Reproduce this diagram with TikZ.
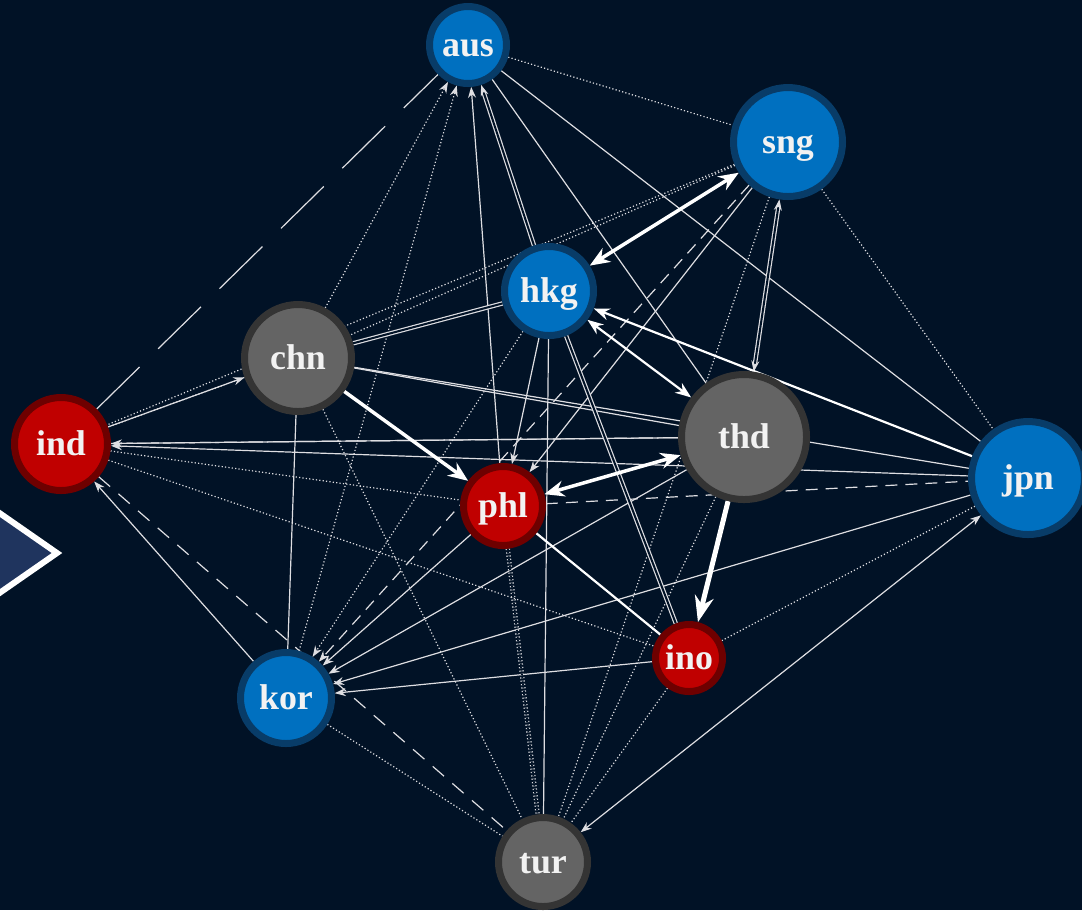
\documentclass[tikz,border=0pt]{standalone}
\usepackage{fontspec}
\setmainfont{Liberation Serif}
\usetikzlibrary{arrows.meta}

\definecolor{bgnavy}{RGB}{1,18,38}
\definecolor{blueF}{RGB}{0,112,192}
\definecolor{blueE}{RGB}{8,60,104}
\definecolor{redF}{RGB}{192,0,0}
\definecolor{redE}{RGB}{110,0,0}
\definecolor{grayF}{RGB}{100,100,100}
\definecolor{grayE}{RGB}{52,52,52}
\definecolor{linkgray}{RGB}{222,222,226}
\definecolor{labelwhite}{RGB}{242,242,242}
\definecolor{chevronF}{RGB}{31,52,94}

\pgfdeclarelayer{back}
\pgfdeclarelayer{links}
\pgfsetlayers{back,links,main}

\tikzset{
  country/.style={circle, line width=0.7mm, text=labelwhite, inner sep=0pt,
    text height=6.8pt, text depth=0pt, font=\fontsize{10.2}{12}\selectfont\bfseries},
  link/.style={draw=linkgray, line width=0.12mm, >={Stealth[length=1.1mm,width=0.8mm]}},
  dotlink/.style={link, dash pattern=on 0.12mm off 0.22mm},
  dashlink/.style={link, dash pattern=on 1.2mm off 0.8mm},
  longdash/.style={link, dash pattern=on 6mm off 2.6mm},
  twin/.style={link, double=bgnavy, double distance=0.2mm},
  medium/.style={draw=white, line width=0.22mm, >={Stealth[length=1.6mm,width=1.2mm]}},
  heavy/.style={draw=white, line width=0.35mm, >={Stealth[length=2mm,width=1.6mm]}},
  chevron/.style={fill=chevronF, draw=white, line width=0.6mm}
}

\begin{document}
\begin{tikzpicture}[x=0.1mm, y=-0.1mm]

    \begin{pgfonlayer}{back}
        \fill[bgnavy] (0,0) rectangle (1082,910);
    \end{pgfonlayer}
    \useasboundingbox (0,0) rectangle (1082,910);

    % pointer at the left border
    \begin{scope}
        \clip (0,0) rectangle (1082,910);
        \draw[chevron] (-25,496) -- (57,553) -- (-25,610) -- cycle;
    \end{scope}

    \foreach \x/\y/\name/\size/\kind in {468/45/aus/84/blue, 788/142/sng/116/blue,
        549/291/hkg/96/blue, 298/358/chn/114/gray, 61/444/ind/100/red,
        744/437/thd/132/gray, 1028/478/jpn/120/blue, 503/506/phl/86/red,
        689/658/ino/74/red, 286/698/kor/98/blue, 543/862/tur/96/gray}
        \node[country, fill=\kind F, draw=\kind E, minimum size=\size*0.1mm-0.7mm] (\name) at (\x,\y) {\name};

    \begin{pgfonlayer}{links}

    % thin solid
    \foreach \source/ \dest in {phl/aus, thd/ind, jpn/ind, kor/ind, hkg/phl, sng/phl,
        phl/kor, thd/kor, jpn/kor, ino/kor, ind/chn}
        \path[link, ->] (\source) -- (\dest);

    \foreach \source/ \dest in {aus/thd, aus/jpn, chn/kor, chn/jpn, hkg/tur, chn/thd}
        \path[link] (\source) -- (\dest);

    \path[link, <->] (jpn) -- (tur);

    % dotted
    \foreach \source/ \dest in {chn/aus, kor/aus, hkg/kor}
        \path[dotlink, ->] (\source) -- (\dest);

    \foreach \source/ \dest in {aus/sng, sng/chn, sng/ind, chn/ind, sng/jpn, sng/tur,
        chn/tur, ind/phl, ind/ino, kor/tur, thd/tur, ino/tur, jpn/ino}
        \path[dotlink] (\source) -- (\dest);

    % dashed
    \path[dashlink, ->] (sng) -- (kor);
    \path[dashlink] (phl) -- (jpn);
    \path[link, dash pattern=on 2.2mm off 0.4mm] (ind) -- (thd);
    \path[link, dash pattern=on 1.5mm off 1.1mm] (ind) -- (tur);
    \path[longdash] (ind) -- (aus);

    % double lines
    \path[twin, ->] (hkg) -- (aus);
    \path[twin, <->] (sng) -- (thd);
    \foreach \source/ \dest in {hkg/ino, chn/hkg}
        \path[twin] (\source) -- (\dest);
    \path[twin, dash pattern=on 0.12mm off 0.22mm] (phl) -- (tur);

    % strong links
    \path[medium, <->] (hkg) -- (thd);
    \path[medium, ->] (jpn) -- (hkg);
    \path[medium] (phl) -- (ino);
    \path[heavy, <->] (sng) -- (hkg);
    \path[heavy, ->] (chn) -- (phl);
    \path[heavy, <->] (thd) -- (phl);
    \path[heavy, line width=0.5mm, ->, >={Stealth[length=2.6mm,width=1.9mm]}] (thd) -- (ino);

    \end{pgfonlayer}

\end{tikzpicture}
\end{document}
